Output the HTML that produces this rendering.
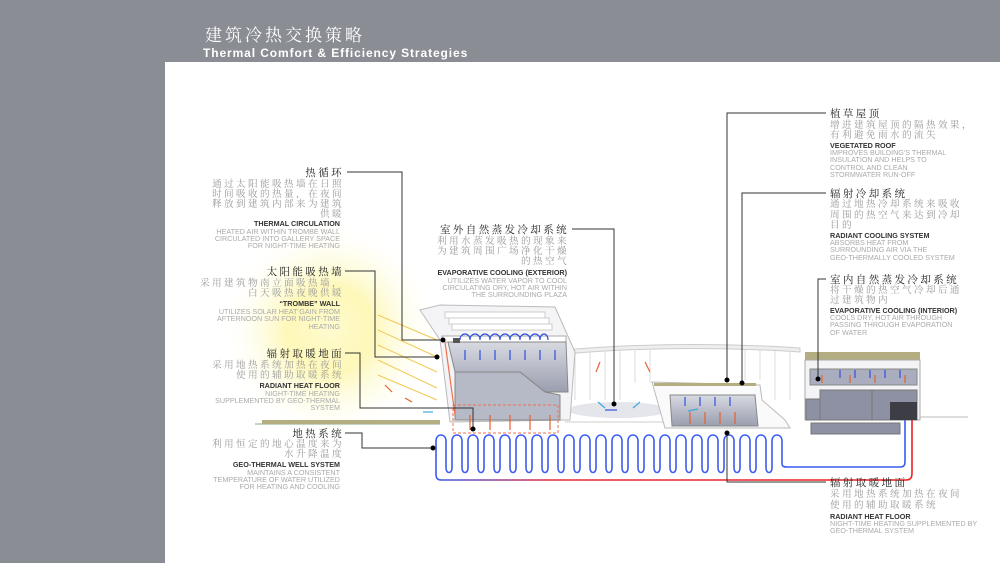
<!DOCTYPE html>
<html><head><meta charset="utf-8"><style>
html,body{margin:0;padding:0;width:1000px;height:563px;overflow:hidden;background:#8b8d95}
svg{display:block}
.zh{font-family:"Liberation Serif","Noto Serif CJK SC",serif;letter-spacing:2.4px}
.h{font-size:10.5px;fill:#222}
.b{font-size:9.6px;fill:#999}
.eh{font-family:"Liberation Sans",sans-serif;font-size:7.2px;font-weight:bold;fill:#333}
.eb{font-family:"Liberation Sans",sans-serif;font-size:7.2px;fill:#aaa}
</style></head><body>
<svg width="1000" height="563" viewBox="0 0 1000 563" xmlns="http://www.w3.org/2000/svg">
<defs>
<radialGradient id="sun" cx="0.5" cy="0.5" r="0.5"><stop offset="0" stop-color="#fffbd0"/><stop offset="0.4" stop-color="#fdf6a8" stop-opacity="0.8"/><stop offset="1" stop-color="#fff" stop-opacity="0"/></radialGradient>
<linearGradient id="bld" x1="0" y1="0" x2="0" y2="1"><stop offset="0" stop-color="#d8dae2"/><stop offset="1" stop-color="#9a9eae"/></linearGradient>
<linearGradient id="ret" x1="0" x2="1"><stop offset="0" stop-color="#3a5cf0"/><stop offset="0.25" stop-color="#e82a3a"/><stop offset="1" stop-color="#f02020"/></linearGradient>
</defs>
<rect x="0" y="0" width="1000" height="563" fill="#8b8d95"/>
<rect x="165" y="62" width="835" height="501" fill="#fff"/>
<text x="205" y="41" class="zh" font-size="17" fill="#fff" style="letter-spacing:3px">建筑冷热交换策略</text>
<text x="203" y="57" font-family="Liberation Sans,sans-serif" font-size="12" font-weight="bold" fill="#fff" letter-spacing="0.9">Thermal Comfort &amp; Efficiency Strategies</text>
<circle cx="330" cy="330" r="110" fill="url(#sun)"/>

<g stroke="#f0c850" stroke-width="1">
<line x1="378" y1="315" x2="437" y2="340"/><line x1="378" y1="330" x2="437" y2="357"/><line x1="378" y1="345" x2="437" y2="372"/><line x1="378" y1="360" x2="437" y2="388"/><line x1="378" y1="375" x2="437" y2="400"/>
</g>
<line x1="255" y1="424" x2="440" y2="424" stroke="#8a8" stroke-width="1"/>
<rect x="262" y="420" width="178" height="4" fill="#b4ad82"/>
<path d="M565 350 Q680 340 800 348 L800 352 Q680 344 565 354Z" fill="#eee" stroke="#ccc"/>
<g stroke="#ddd" stroke-width="1">
<line x1="575" y1="352" x2="575" y2="400"/><line x1="590" y1="351" x2="590" y2="400"/><line x1="605" y1="350" x2="605" y2="400"/><line x1="620" y1="349" x2="620" y2="400"/><line x1="635" y1="349" x2="635" y2="383"/><line x1="650" y1="349" x2="650" y2="383"/><line x1="745" y1="350" x2="745" y2="380"/><line x1="760" y1="350" x2="760" y2="380"/><line x1="775" y1="351" x2="775" y2="400"/><line x1="790" y1="351" x2="790" y2="400"/>
</g>
<ellipse cx="618" cy="410" rx="50" ry="8" fill="#e4e6ec"/>
<line x1="565" y1="422" x2="665" y2="422" stroke="#ccc"/>
<path d="M420 310 L440 305 L555 307 L575 352 L570 420 L450 422 L440 340 Z" fill="#f4f4f6" stroke="#bbb"/>
<g fill="#fff" stroke="#ccc"><rect x="445" y="312" width="100" height="6"/><rect x="449" y="318" width="100" height="6"/><rect x="452" y="324" width="100" height="6"/></g>
<rect x="442" y="336" width="124" height="6" fill="#fff" stroke="#aaa"/>
<path d="M448 342 L566 342 L568 392 L545 392 L520 372 L455 372 Z" fill="url(#bld)" stroke="#888"/>
<path d="M455 372 L520 372 L545 392 L560 395 L560 420 L455 420 Z" fill="#b6b9c6" stroke="#888"/>
<rect x="453" y="338" width="7" height="5" fill="#555"/>
<line x1="445" y1="342" x2="455" y2="415" stroke="#f07050" stroke-width="1.2"/>
<rect x="453" y="405" width="105" height="28" fill="none" stroke="#f07050" stroke-dasharray="3,2"/>
<path d="M460 340 C460 332 470 332 470 340 M470 340 C470 332 480 332 480 340 M480 340 C480 332 490 332 490 340 M490 340 C490 332 500 332 500 340 M500 340 C500 332 510 332 510 340 M510 340 C510 332 520 332 520 340 M520 340 C520 332 530 332 530 340 M530 340 C530 332 540 332 540 340 M540 340 C540 332 548 332 548 340" fill="none" stroke="#3050e0" stroke-width="1.2"/>
<path d="M652 382 L760 385 L762 400 L785 420 L790 428 L665 428 Z" fill="#fafafa" stroke="#bbb"/>
<rect x="654" y="383" width="102" height="3" fill="#b4ad82"/>
<path d="M670 395 L755 395 L758 426 L672 426 Z" fill="url(#bld)" stroke="#888"/>
<rect x="805" y="352" width="115" height="8" fill="#b4ad82"/>
<path d="M805 360 L920 360 L920 420 L805 420 Z" fill="#f4f4f6" stroke="#aaa"/>
<rect x="810" y="369" width="107" height="16" fill="#a9adbd" stroke="#888"/>
<rect x="806" y="399" width="14" height="21" fill="#8d91a3" stroke="#777"/>
<rect x="820" y="390" width="52" height="30" fill="#8d91a3" stroke="#777"/>
<rect x="872" y="390" width="45" height="30" fill="#8d91a3" stroke="#777"/>
<rect x="890" y="402" width="27" height="18" fill="#3c3d45"/>
<rect x="811" y="423" width="89" height="11" fill="#8d91a3" stroke="#777"/>
<line x1="920" y1="417" x2="968" y2="417" stroke="#bbb"/>
<g stroke="#e86030" stroke-width="1.2">
<line x1="470" y1="430" x2="470" y2="415"/><line x1="490" y1="430" x2="490" y2="415"/><line x1="510" y1="430" x2="510" y2="415"/><line x1="530" y1="430" x2="530" y2="415"/><line x1="550" y1="430" x2="550" y2="415"/>
<line x1="690" y1="424" x2="690" y2="412"/><line x1="705" y1="424" x2="705" y2="412"/><line x1="720" y1="424" x2="720" y2="412"/><line x1="735" y1="424" x2="735" y2="412"/>
<line x1="822" y1="383" x2="822" y2="375"/><line x1="850" y1="383" x2="850" y2="375"/><line x1="875" y1="383" x2="875" y2="375"/><line x1="905" y1="383" x2="905" y2="375"/>
<line x1="385" y1="385" x2="392" y2="392"/><line x1="405" y1="398" x2="412" y2="402"/><line x1="600" y1="362" x2="596" y2="372"/><line x1="645" y1="362" x2="650" y2="372"/>
</g>
<g stroke="#3050e0" stroke-width="1.2">
<line x1="465" y1="350" x2="465" y2="360"/><line x1="480" y1="350" x2="480" y2="360"/><line x1="495" y1="350" x2="495" y2="360"/><line x1="510" y1="350" x2="510" y2="360"/><line x1="525" y1="350" x2="525" y2="360"/><line x1="540" y1="350" x2="540" y2="360"/><line x1="555" y1="350" x2="555" y2="360"/>
<line x1="685" y1="397" x2="685" y2="406"/><line x1="700" y1="397" x2="700" y2="406"/><line x1="715" y1="397" x2="715" y2="406"/><line x1="730" y1="397" x2="730" y2="406"/>
<line x1="840" y1="370" x2="840" y2="378"/><line x1="855" y1="370" x2="855" y2="378"/><line x1="870" y1="370" x2="870" y2="378"/><line x1="885" y1="370" x2="885" y2="378"/><line x1="900" y1="370" x2="900" y2="378"/>
<line x1="605" y1="410" x2="617" y2="410"/>
</g>
<g stroke="#40a8d8" stroke-width="1.2"><line x1="598" y1="402" x2="605" y2="408"/><line x1="640" y1="402" x2="633" y2="408"/><line x1="688" y1="411" x2="698" y2="409"/><line x1="423" y1="412" x2="433" y2="412"/></g>
<path fill="none" stroke="#3a5cf0" stroke-width="1.6" d="M436 474 L436 441 C436 433 446 433 446 441 L446 468 C446 474 452 474 452 468 L452 441 C452 433 462 433 462 441 L462 468 C462 474 468 474 468 468 L468 441 C468 433 478 433 478 441 L478 468 C478 474 484 474 484 468 L484 441 C484 433 494 433 494 441 L494 468 C494 474 500 474 500 468 L500 441 C500 433 510 433 510 441 L510 468 C510 474 516 474 516 468 L516 441 C516 433 526 433 526 441 L526 468 C526 474 532 474 532 468 L532 441 C532 433 542 433 542 441 L542 468 C542 474 548 474 548 468 L548 441 C548 433 558 433 558 441 L558 468 C558 474 564 474 564 468 L564 441 C564 433 574 433 574 441 L574 468 C574 474 580 474 580 468 L580 441 C580 433 590 433 590 441 L590 468 C590 474 596 474 596 468 L596 441 C596 433 606 433 606 441 L606 468 C606 474 612 474 612 468 L612 441 C612 433 622 433 622 441 L622 468 C622 474 628 474 628 468 L628 441 C628 433 638 433 638 441 L638 468 C638 474 644 474 644 468 L644 441 C644 433 654 433 654 441 L654 468 C654 474 660 474 660 468 L660 441 C660 433 670 433 670 441 L670 468 C670 474 676 474 676 468 L676 441 C676 433 686 433 686 441 L686 468 C686 474 692 474 692 468 L692 441 C692 433 702 433 702 441 L702 468 C702 474 708 474 708 468 L708 441 C708 433 718 433 718 441 L718 468 C718 474 724 474 724 468 L724 441 C724 433 734 433 734 441 L734 468 C734 474 740 474 740 468 L740 441 C740 433 750 433 750 441 L750 468 C750 474 756 474 756 468 L756 441 C756 433 766 433 766 441 L766 468 C766 474 772 474 772 468 L772 441 C772 433 782 433 782 441 L782 463 C782 467 784 467 788 467 L900 467 C905 467 905 464 905 460 L905 420"/>
<path d="M436 474 C436 479 438 480 442 480 L906 480 C912 480 912 476 912 472 L912 420" fill="none" stroke="url(#ret)" stroke-width="1.6"/>

<g fill="none" stroke="#333" stroke-width="1">
<path d="M347 172 L402 172 L402 340 L443 340"/>
<path d="M345 271 L375 271 L375 357 L437 357"/>
<path d="M345 353 L360 353 L360 408 L473 408 L473 429"/>
<path d="M345 433 L362 433 L362 448 L433 448"/>
<path d="M572 229 L614 229 L614 404"/>
<path d="M826 113 L727 113 L727 380"/>
<path d="M826 193 L742 193 L742 383"/>
<path d="M826 279 L818 279 L818 379"/>
<path d="M826 482 L727 482 L727 433"/>
</g>
<g fill="#000"><circle cx="443" cy="340" r="2.5"/><circle cx="437" cy="357" r="2.5"/><circle cx="473" cy="429" r="2.5"/><circle cx="433" cy="448" r="2.5"/><circle cx="614" cy="404" r="2.5"/><circle cx="727" cy="380" r="2.5"/><circle cx="742" cy="383" r="2.5"/><circle cx="818" cy="379" r="2.5"/><circle cx="727" cy="433" r="2.5"/></g>

<g text-anchor="end">
<text x="344" y="176" class="zh h">热循环</text>
<text x="344" y="187" class="zh b">通过太阳能吸热墙在日照</text>
<text x="344" y="197" class="zh b">时间吸收的热量，在夜间</text>
<text x="344" y="207" class="zh b">释放到建筑内部来为建筑</text>
<text x="344" y="217" class="zh b">供暖</text>
<text x="340" y="226" class="eh">THERMAL CIRCULATION</text>
<text x="340" y="234" class="eb">HEATED AIR WITHIN TROMBE WALL</text>
<text x="340" y="241" class="eb">CIRCULATED INTO GALLERY SPACE</text>
<text x="340" y="248" class="eb">FOR NIGHT-TIME HEATING</text>
<text x="344" y="275" class="zh h">太阳能吸热墙</text>
<text x="344" y="286" class="zh b">采用建筑物南立面吸热墙，</text>
<text x="344" y="296" class="zh b">白天吸热夜晚供暖</text>
<text x="340" y="306" class="eh">“TROMBE” WALL</text>
<text x="340" y="314" class="eb">UTILIZES SOLAR HEAT GAIN FROM</text>
<text x="340" y="321" class="eb">AFTERNOON SUN FOR NIGHT-TIME</text>
<text x="340" y="329" class="eb">HEATING</text>
<text x="344" y="357" class="zh h">辐射取暖地面</text>
<text x="344" y="368" class="zh b">采用地热系统加热在夜间</text>
<text x="344" y="378" class="zh b">使用的辅助取暖系统</text>
<text x="340" y="388" class="eh">RADIANT HEAT FLOOR</text>
<text x="340" y="396" class="eb">NIGHT-TIME HEATING</text>
<text x="340" y="403" class="eb">SUPPLEMENTED BY GEO-THERMAL</text>
<text x="340" y="410" class="eb">SYSTEM</text>
<text x="344" y="437" class="zh h">地热系统</text>
<text x="344" y="447" class="zh b">利用恒定的地心温度来为</text>
<text x="344" y="457" class="zh b">水升降温度</text>
<text x="340" y="467" class="eh">GEO-THERMAL WELL SYSTEM</text>
<text x="340" y="475" class="eb">MAINTAINS A CONSISTENT</text>
<text x="340" y="482" class="eb">TEMPERATURE OF WATER UTILIZED</text>
<text x="340" y="489" class="eb">FOR HEATING AND COOLING</text>
<text x="569" y="233" class="zh h">室外自然蒸发冷却系统</text>
<text x="569" y="244" class="zh b">利用水蒸发吸热的现象来</text>
<text x="569" y="254" class="zh b">为建筑周围广场净化干燥</text>
<text x="569" y="264" class="zh b">的热空气</text>
<text x="567" y="275" class="eh">EVAPORATIVE COOLING (EXTERIOR)</text>
<text x="567" y="283" class="eb">UTILIZES WATER VAPOR TO COOL</text>
<text x="567" y="290" class="eb">CIRCULATING DRY, HOT AIR WITHIN</text>
<text x="567" y="297" class="eb">THE SURROUNDING PLAZA</text>
</g>
<text x="830" y="117" class="zh h">植草屋顶</text>
<text x="830" y="128" class="zh b">增进建筑屋顶的隔热效果，</text>
<text x="830" y="138" class="zh b">有利避免雨水的流失</text>
<text x="830" y="148" class="eh">VEGETATED ROOF</text>
<text x="830" y="155" class="eb">IMPROVES BUILDING'S THERMAL</text>
<text x="830" y="162" class="eb">INSULATION AND HELPS TO</text>
<text x="830" y="170" class="eb">CONTROL AND CLEAN</text>
<text x="830" y="177" class="eb">STORMWATER RUN-OFF</text>
<text x="830" y="197" class="zh h">辐射冷却系统</text>
<text x="830" y="207" class="zh b">通过地热冷却系统来吸收</text>
<text x="830" y="218" class="zh b">周围的热空气来达到冷却</text>
<text x="830" y="228" class="zh b">目的</text>
<text x="830" y="238" class="eh">RADIANT COOLING SYSTEM</text>
<text x="830" y="245" class="eb">ABSORBS HEAT FROM</text>
<text x="830" y="252" class="eb">SURROUNDING AIR VIA THE</text>
<text x="830" y="260" class="eb">GEO-THERMALLY COOLED SYSTEM</text>
<text x="830" y="283" class="zh h">室内自然蒸发冷却系统</text>
<text x="830" y="293" class="zh b">将干燥的热空气冷却后通</text>
<text x="830" y="303" class="zh b">过建筑物内</text>
<text x="830" y="313" class="eh">EVAPORATIVE COOLING (INTERIOR)</text>
<text x="830" y="320" class="eb">COOLS DRY, HOT AIR THROUGH</text>
<text x="830" y="327" class="eb">PASSING THROUGH EVAPORATION</text>
<text x="830" y="335" class="eb">OF WATER</text>
<text x="830" y="486" class="zh h">辐射取暖地面</text>
<text x="830" y="497" class="zh b">采用地热系统加热在夜间</text>
<text x="830" y="508" class="zh b">使用的辅助取暖系统</text>
<text x="830" y="519" class="eh">RADIANT HEAT FLOOR</text>
<text x="830" y="526" class="eb">NIGHT-TIME HEATING SUPPLEMENTED BY</text>
<text x="830" y="533" class="eb">GEO-THERMAL SYSTEM</text>
</svg>
</body></html>
